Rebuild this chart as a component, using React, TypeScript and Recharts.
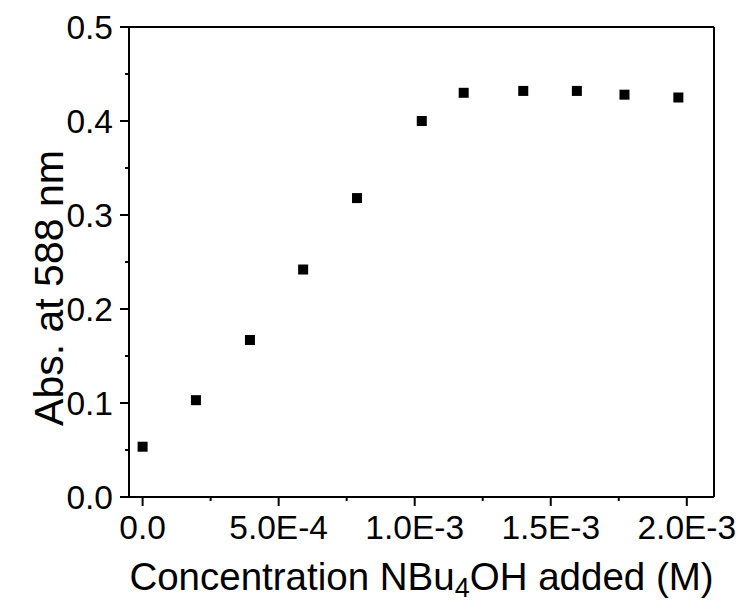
import React from "react";
import { ScatterChart, Scatter, XAxis, YAxis, ReferenceLine } from "recharts";

const concentrations = [0, 1.96e-4, 3.945e-4, 5.9e-4, 7.88e-4, 1.026e-3, 1.18e-3, 1.399e-3, 1.596e-3, 1.771e-3, 1.969e-3];
const absorbances = [0.0535, 0.103, 0.167, 0.242, 0.318, 0.4, 0.43, 0.432, 0.432, 0.428, 0.425];

const xMajorTicks = [0, 5e-4, 1e-3, 1.5e-3, 2e-3];
const xMajorLabels = ["0.0", "5.0E-4", "1.0E-3", "1.5E-3", "2.0E-3"];
const xMinorTicks = [2.5e-4, 7.5e-4, 1.25e-3, 1.75e-3];

const yMajorTicks = [0, 0.1, 0.2, 0.3, 0.4, 0.5];
const yMajorLabels = ["0.0", "0.1", "0.2", "0.3", "0.4", "0.5"];
const yMinorTicks = [0.05, 0.15, 0.25, 0.35, 0.45];

const xDomain: [number, number] = [-0.00005, 0.0021];
const yDomain: [number, number] = [0, 0.5];

const data = concentrations.map((x, i) => ({ x, y: absorbances[i] }));

const FONT = "'Liberation Sans', Arial, sans-serif";

const findMajor = (v: number, ticks: number[], eps: number) =>
  ticks.findIndex((t) => Math.abs(t - v) < eps);

const XTick = (props: any) => {
  const { x, y, payload } = props;
  const idx = findMajor(payload.value, xMajorTicks, 1e-8);
  const major = idx >= 0;
  return (
    <g>
      <line x1={x} y1={y} x2={x} y2={y + (major ? 9 : 4)} stroke="#000" strokeWidth={2} />
      {major && (
        <text x={x} y={y + 42} textAnchor="middle" fontSize={33.5} fontFamily={FONT} fill="#000">
          {xMajorLabels[idx]}
        </text>
      )}
    </g>
  );
};

const YTick = (props: any) => {
  const { x, y, payload } = props;
  const idx = findMajor(payload.value, yMajorTicks, 1e-6);
  const major = idx >= 0;
  return (
    <g>
      <line x1={x - (major ? 9 : 4)} y1={y} x2={x} y2={y} stroke="#000" strokeWidth={2} />
      {major && (
        <text x={x - 16} y={y} dy="0.36em" textAnchor="end" fontSize={33.5} fontFamily={FONT} fill="#000">
          {yMajorLabels[idx]}
        </text>
      )}
    </g>
  );
};

const SquareMarker = (props: any) => {
  const { cx, cy } = props;
  return <rect x={cx - 5} y={cy - 5} width={10} height={10} fill="#000" />;
};

export default function App() {
  const xTicks = [...xMajorTicks, ...xMinorTicks].sort((a, b) => a - b);
  const yTicks = [...yMajorTicks, ...yMinorTicks].sort((a, b) => a - b);
  return (
    <div style={{ position: "absolute", left: 0, top: 0, width: 741, height: 604, background: "#fff" }}>
      <ScatterChart width={741} height={604} margin={{ top: 27, right: 27, left: 69, bottom: 77 }}>
        <XAxis
          type="number"
          dataKey="x"
          domain={xDomain}
          ticks={xTicks}
          allowDataOverflow
          interval={0}
          tickSize={0}
          tickMargin={0}
          tickLine={false}
          axisLine={{ stroke: "#000", strokeWidth: 2 }}
          tick={<XTick />}
          height={30}
        />
        <YAxis
          type="number"
          dataKey="y"
          domain={yDomain}
          ticks={yTicks}
          allowDataOverflow
          interval={0}
          tickSize={0}
          tickMargin={0}
          tickLine={false}
          axisLine={{ stroke: "#000", strokeWidth: 2 }}
          tick={<YTick />}
          width={60}
        />
        <ReferenceLine y={0.5} stroke="#000" strokeWidth={2} />
        <ReferenceLine x={0.0021} stroke="#000" strokeWidth={2} />
        <Scatter data={data} fill="#000" shape={<SquareMarker />} isAnimationActive={false} />
      </ScatterChart>
      <svg
        width={741}
        height={604}
        style={{ position: "absolute", left: 0, top: 0, pointerEvents: "none" }}
      >
        <text x={421.5} y={590} textAnchor="middle" fontSize={38.5} fontFamily={FONT} fill="#000">
          Concentration NBu
          <tspan fontSize={27} dy={7}>4</tspan>
          <tspan dy={-7}>OH added (M)</tspan>
        </text>
        <text
          x={63}
          y={288}
          transform="rotate(-90, 63, 288)"
          textAnchor="middle"
          fontSize={41}
          fontFamily={FONT}
          fill="#000"
        >
          Abs. at 588 nm
        </text>
      </svg>
    </div>
  );
}
